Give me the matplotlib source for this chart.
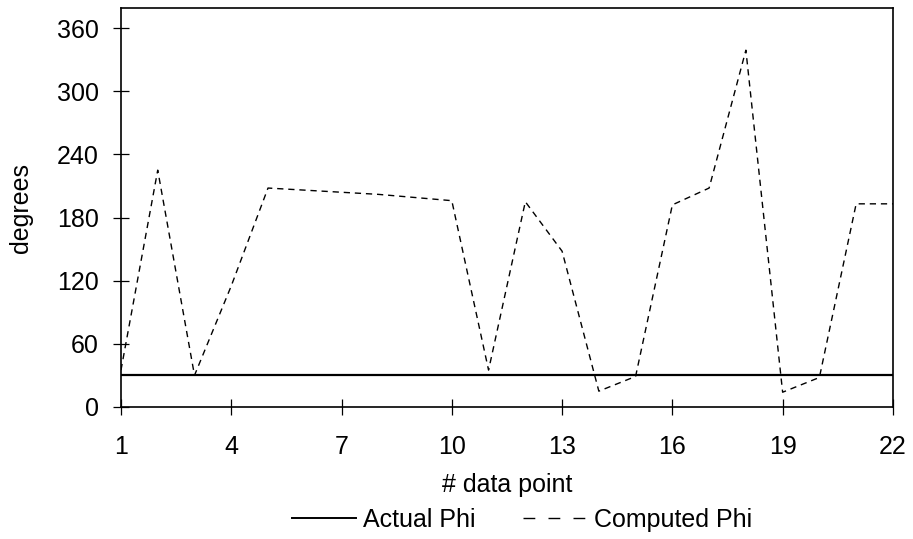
import numpy as np
import matplotlib.pyplot as plt
from matplotlib.lines import Line2D

plt.rcParams['font.family'] = ['Liberation Sans', 'DejaVu Sans']

# data
points = np.arange(1, 23)
actual_phi = [30] * 22
computed_phi = [35, 225, 30, 115, 208, 206, 204, 202, 199, 196,
                35, 195, 148, 15, 29, 192, 208, 339, 14, 28, 193, 193]
x_ticks = [1, 4, 7, 10, 13, 16, 19, 22]
y_ticks = [0, 60, 120, 180, 240, 300, 360]

fig = plt.figure(figsize=(9.13, 5.39), dpi=100)
ax = fig.add_axes([0.1325, 0.245, 0.8455, 0.74])

ax.plot(points, actual_phi, color='black', lw=1.6)
ax.plot(points, computed_phi, color='black', lw=1.0, dashes=(4.5, 3.5))

ax.set_xlim(1, 22)
ax.set_ylim(0, 379)
ax.set_xticks(x_ticks)
ax.set_yticks(y_ticks)
ax.tick_params(direction='inout', length=11, width=0.9, labelsize=18)
ax.tick_params(axis='y', pad=10.5)
ax.tick_params(axis='x', pad=15)
for s in ax.spines.values():
    s.set_linewidth(1.2)
ax.set_xlabel('# data point', fontsize=18, labelpad=10)
ax.set_ylabel('degrees', fontsize=18, labelpad=17)

# legend handles: the key shows three long dashes for the computed line
handles = [Line2D([], [], color='black', lw=1.4),
           Line2D([], [], color='black', lw=1.0, dashes=(8.5, 9.5))]
fig.legend(handles, ['Actual Phi', 'Computed Phi'], loc='center',
           bbox_to_anchor=(0.572, 0.036), ncol=2, frameon=False,
           fontsize=18, handlelength=2.55, columnspacing=1.9, handletextpad=0.3)

fig.savefig('out.png', dpi=100)
